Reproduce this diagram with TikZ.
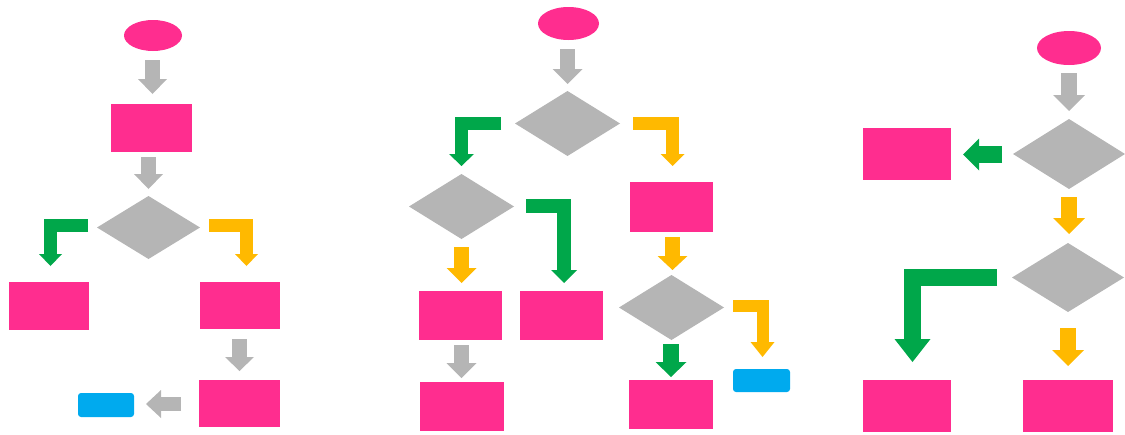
\documentclass[tikz,border=0pt]{standalone}
\usetikzlibrary{shapes.geometric,arrows.meta,calc}
\definecolor{pinkc}{HTML}{FF2D8F}
\definecolor{grayc}{HTML}{B5B5B5}
\definecolor{greenc}{HTML}{00A74A}
\definecolor{yellowc}{HTML}{FFB900}
\definecolor{bluec}{HTML}{00AAEE}
\tikzset{
  shp/.style={inner sep=0pt, outer sep=0pt, draw=none},
  startnode/.style n args={2}{shp, ellipse, fill=pinkc, minimum width=#1pt, minimum height=#2pt},
  procbox/.style n args={2}{shp, rectangle, fill=pinkc, minimum width=#1pt, minimum height=#2pt},
  decision/.style n args={2}{shp, diamond, fill=grayc, minimum width=#1pt, minimum height=#2pt},
  endbox/.style n args={2}{shp, rectangle, rounded corners=3pt, fill=bluec, minimum width=#1pt, minimum height=#2pt},
  flowarrow/.style n args={3}{line width=#1pt, line join=miter, line cap=butt,
    -{Triangle[width=#2pt,length=#3pt,line width=0pt]}},
}
\begin{document}
\begin{tikzpicture}[x=1pt,y=-1pt]
\useasboundingbox (0,0) rectangle (1125,434);

% ---------- left flow ----------
\node[startnode={58}{31}] (L0) at (153,35.5) {};
\node[procbox={81}{48}] (L1) at (151.5,128) {};
\node[decision={103}{63}] (L2) at (148.5,227.5) {};
\node[procbox={80}{48}] (L3) at (49,306) {};
\node[procbox={80}{47}] (L4) at (240,305.5) {};
\node[procbox={81}{47}] (L5) at (239.5,403.5) {};
\node[endbox={56}{24}] (L6) at (106,405) {};

\draw[flowarrow={15}{29}{15}, draw=grayc] ($(L0.south)+(-0.5,9)$) -- ($(L1.north)+(1,-10)$);
\draw[flowarrow={15}{29}{15}, draw=grayc] ($(L1.south)+(-3,5)$) -- ($(L2.north)+(0,-7)$);
\draw[flowarrow={13}{23}{12}, draw=greenc] ($(L2.west)+(-9,-2)$) -| ($(L3.north)+(1.5,-16)$);
\draw[flowarrow={13}{23}{12}, draw=yellowc] ($(L2.east)+(9,-2)$) -| ($(L4.north)+(6.5,-16)$);
\draw[flowarrow={15}{29}{14}, draw=grayc] ($(L4.south)+(-0.5,10)$) -- ($(L5.north)+(0,-9)$);
\draw[flowarrow={14}{28}{15}, draw=grayc] ($(L5.west)+(-18,0.5)$) -- ($(L6.east)+(12,-1)$);

% ---------- middle flow ----------
\node[startnode={61}{33}] (M0) at (568.5,23.5) {};
\node[decision={105}{65}] (M1) at (567.5,123.5) {};
\node[decision={105}{65}] (M2) at (461.5,206.5) {};
\node[procbox={83}{50}] (M3) at (671.5,207) {};
\node[procbox={83}{49}] (M4) at (460.5,315.5) {};
\node[procbox={83}{49}] (M5) at (561.5,315.5) {};
\node[decision={105}{65}] (M6) at (671.5,307.5) {};
\node[procbox={84}{49}] (M7) at (462,406.5) {};
\node[procbox={84}{49}] (M8) at (671,404.5) {};
\node[endbox={57}{23}] (M9) at (761.5,380.5) {};

\draw[flowarrow={15}{30}{15}, draw=grayc] ($(M0.south)+(-1,9)$) -- ($(M1.north)+(0,-7)$);
\draw[flowarrow={13}{25}{12}, draw=greenc] ($(M1.west)+(-14,0)$) -| ($(M2.north)+(0,-8)$);
\draw[flowarrow={13}{24}{12}, draw=yellowc] ($(M1.east)+(13,0)$) -| ($(M3.north)+(1,-16)$);
\draw[flowarrow={14}{26}{13}, draw=greenc] ($(M2.east)+(12,-0.5)$) -| ($(M5.north)+(2.5,-8)$);
\draw[flowarrow={15}{30}{15}, draw=yellowc] ($(M2.south)+(0,8)$) -- ($(M4.north)+(1,-8)$);
\draw[flowarrow={15}{30}{14}, draw=yellowc] ($(M3.south)+(1,5)$) -- ($(M6.north)+(1,-5)$);
\draw[flowarrow={12}{24}{15}, draw=yellowc] ($(M6.east)+(9,-1.5)$) -| ($(M9.north)+(1,-12)$);
\draw[flowarrow={15}{30}{15}, draw=grayc] ($(M4.south)+(1,5)$) -- ($(M7.north)+(-0.5,-4)$);
\draw[flowarrow={16}{31}{15}, draw=greenc] ($(M6.south)+(-0.5,4)$) -- ($(M8.north)+(0,-3)$);

% ---------- right flow ----------
\node[startnode={64}{34}] (R0) at (1069,48) {};
\node[decision={112}{70}] (R1) at (1069,154) {};
\node[procbox={88}{52}] (R2) at (907,154) {};
\node[decision={112}{69}] (R3) at (1068,277.5) {};
\node[procbox={88}{52}] (R4) at (907,406) {};
\node[procbox={90}{52}] (R5) at (1068,406) {};

\draw[flowarrow={16}{32}{16}, draw=grayc] ($(R0.south)+(0,8)$) -- ($(R1.north)+(0,-8)$);
\draw[flowarrow={17}{32}{16}, draw=greenc] ($(R1.west)+(-11,0.5)$) -- ($(R2.east)+(12,0.5)$);
\draw[flowarrow={16}{32}{16}, draw=yellowc] ($(R1.south)+(0,8)$) -- ($(R3.north)+(1,-9)$);
\draw[flowarrow={17}{36}{23}, draw=greenc] ($(R3.west)+(-15,-0.5)$) -| ($(R4.north)+(5.5,-18)$);
\draw[flowarrow={16}{32}{16}, draw=yellowc] ($(R3.south)+(0,16)$) -- ($(R5.north)+(0,-14)$);
\end{tikzpicture}
\end{document}
